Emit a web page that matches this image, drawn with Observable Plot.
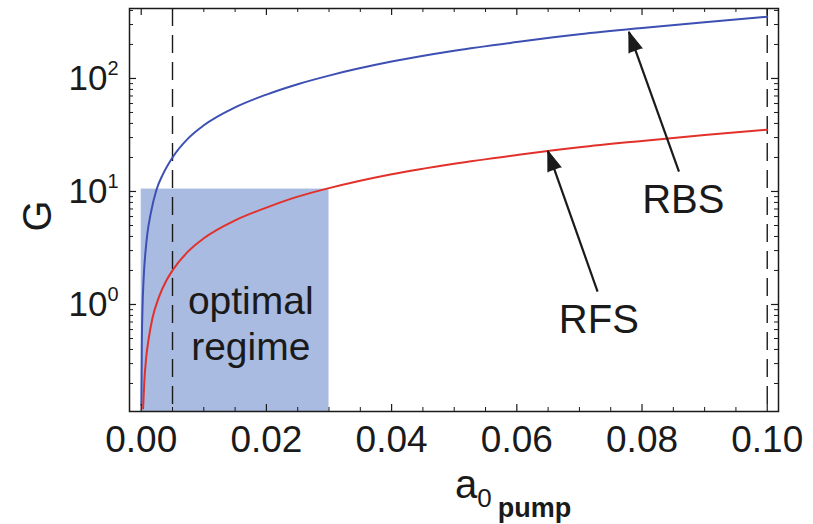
<!DOCTYPE html>
<html><head><meta charset="utf-8">
<script src="https://cdn.jsdelivr.net/npm/d3@7"></script>
<script src="https://cdn.jsdelivr.net/npm/@observablehq/plot@0.6"></script>
<style>body{margin:0;background:#fff} svg{display:block}</style>
</head><body><div id="chart"></div>
<script>
// ---- data ----
const aRBS = [0.00003, 0.0001, 0.0002, 0.0004, 0.0007, 0.001, 0.0015, 0.0024, 0.0035, 0.005, 0.0075, 0.01, 0.015, 0.02, 0.025, 0.03, 0.04, 0.05, 0.06, 0.07, 0.08, 0.09, 0.1];
const gRBS = [0.13, 0.45, 0.9, 1.75, 3.0, 4.3, 6.3, 10.2, 14.3, 20, 29.5, 38.5, 55.5, 72, 89, 106, 141, 176, 210, 246, 280, 315, 352];
const aRFS = [0.0003, 0.0005, 0.0008, 0.0012, 0.0018, 0.0028, 0.004, 0.005, 0.0075, 0.01, 0.015, 0.02, 0.025, 0.03, 0.04, 0.05, 0.06, 0.07, 0.08, 0.09, 0.1];
const gRFS = [0.12, 0.21, 0.34, 0.5, 0.76, 1.15, 1.62, 2.0, 2.95, 3.85, 5.55, 7.2, 9.0, 10.7, 14.2, 17.6, 21.0, 24.6, 28.0, 31.6, 35.2];
const xTickLabels = [0, 0.02, 0.04, 0.06, 0.08, 0.1];
const xMinorTicks = [0.005, 0.01, 0.015, 0.025, 0.03, 0.035, 0.045, 0.05, 0.055, 0.065, 0.07, 0.075, 0.085, 0.09, 0.095];
const yTickLabels = [1, 10, 100];
const yMinorTicks = [0.2, 0.3, 0.4, 0.5, 0.6, 0.7, 0.8, 0.9, 2, 3, 4, 5, 6, 7, 8, 9, 20, 30, 40, 50, 60, 70, 80, 90, 200, 300, 400];
const dashedX = [0.005, 0.1];
const regimeX = [0, 0.03];
const regimeTop = 10.5;
const regimeText = "optimal\nregime";
const regimeTextPos = [0.0175, 0.32];
const annLabels = ["RBS", "RFS"];
const annTextX = [0.0866, 0.0731];
const annTextY = [6.4, 0.557];
const annTipX = [0.0779, 0.06495];
const annTipY = [259, 22.9];
const annTailX = [0.0859, 0.0729];
const annTailY = [15.0, 1.30];

// ---- layout ----
const W = 813, H = 524;
const mL = 129, mR = 35, mT = 8, mB = 113;
const innerW = W - mL - mR, innerH = H - mT - mB;
const xDomain = [-0.00187, 0.1018];
const yDomain = [0.113, 416];
const font = "'Liberation Sans', Arial, Helvetica, sans-serif";

const rbs = aRBS.map((a, i) => ({a, g: gRBS[i]}));
const rfs = aRFS.map((a, i) => ({a, g: gRFS[i]}));
const ann = annLabels.map((label, i) => ({label, tx: annTextX[i], ty: annTextY[i], x1: annTailX[i], y1: annTailY[i], x2: annTipX[i], y2: annTipY[i]}));

const ink = "#1a1a1a";
const plot = Plot.plot({
  width: W, height: H,
  marginLeft: mL, marginRight: mR, marginTop: mT, marginBottom: mB,
  style: {fontFamily: font, background: "#fff", color: ink},
  x: {domain: xDomain, label: null},
  y: {type: "log", domain: yDomain, label: null},
  marks: [
    Plot.rect([{x1: regimeX[0], x2: regimeX[1]}], {x1: "x1", x2: "x2", y1: () => yDomain[0], y2: () => regimeTop, fill: "#a9bbe0"}),
    Plot.ruleX(dashedX, {stroke: ink, strokeWidth: 1.4, strokeDasharray: "18,9"}),
    Plot.line(rbs, {x: "a", y: "g", stroke: "#3d4fb3", strokeWidth: 2, curve: "monotone-x"}),
    Plot.line(rfs, {x: "a", y: "g", stroke: "#e2312a", strokeWidth: 2, curve: "monotone-x"}),
    // frame ticks (inward)
    Plot.tickX(xTickLabels, {x: d => d, insetTop: innerH - 7, stroke: ink, strokeWidth: 1.2}),
    Plot.tickX(xTickLabels, {x: d => d, insetBottom: innerH - 7, stroke: ink, strokeWidth: 1.2}),
    Plot.tickX(xMinorTicks, {x: d => d, insetTop: innerH - 4, stroke: ink, strokeWidth: 1}),
    Plot.tickX(xMinorTicks, {x: d => d, insetBottom: innerH - 4, stroke: ink, strokeWidth: 1}),
    Plot.tickY(yTickLabels, {y: d => d, insetRight: innerW - 7, stroke: ink, strokeWidth: 1.2}),
    Plot.tickY(yTickLabels, {y: d => d, insetLeft: innerW - 7, stroke: ink, strokeWidth: 1.2}),
    Plot.tickY(yMinorTicks, {y: d => d, insetRight: innerW - 4, stroke: ink, strokeWidth: 1}),
    Plot.tickY(yMinorTicks, {y: d => d, insetLeft: innerW - 4, stroke: ink, strokeWidth: 1}),
    Plot.frame({stroke: ink, strokeWidth: 1.5}),
    Plot.axisX(xTickLabels, {tickSize: 0, tickPadding: 14, fontSize: 37, tickFormat: d3.format(".2f"), label: null}),
    Plot.axisY(yTickLabels, {tickSize: 0, tickPadding: 11, fontSize: 35, tickFormat: d => String(Math.round(Math.log10(d))), label: null}),
    // annotations
    Plot.text([regimeText], {x: () => regimeTextPos[0], y: () => regimeTextPos[1], text: d => d, fontSize: 39, lineHeight: 1.2, lineAnchor: "bottom", fill: ink}),
    Plot.link(ann, {x1: "x1", y1: "y1", x2: "x2", y2: "y2", stroke: ink, strokeWidth: 2.2}),
    Plot.vector(ann, {x: "x2", y: "y2", shape: "spike", anchor: "end", length: 20, r: 7, rotate: -19.6, fill: ink, fillOpacity: 1, stroke: ink, strokeWidth: 1}),
    Plot.text(ann, {x: "tx", y: "ty", text: "label", fontSize: 40, lineAnchor: "bottom", fill: ink})
  ]
});

const svg = d3.select(plot);
// superscript y tick labels: 10^n
svg.selectAll('g[aria-label="y-axis tick label"] text').each(function() {
  const t = d3.select(this);
  const e = t.text();
  t.text(null);
  t.append("tspan").text("10");
  t.append("tspan").attr("font-size", "0.57em").attr("dy", "-0.72em").text(e);
});
// x axis label a0 pump
const xl = svg.append("text").attr("x", 455).attr("y", 498).attr("fill", ink)
  .attr("text-anchor", "start").attr("font-family", font);
xl.append("tspan").attr("font-size", 40).text("a");
xl.append("tspan").attr("font-size", 26).attr("dy", 8.5).text("0");
xl.append("tspan").attr("font-size", 27).attr("font-weight", "bold").attr("dx", 6).attr("dy", 10).text("pump");
// y axis label G
svg.append("text").attr("transform", "translate(51,216) rotate(-90)").attr("text-anchor", "middle")
  .attr("font-size", 40).attr("fill", ink).attr("font-family", font).text("G");

document.getElementById("chart").appendChild(plot);
</script>
</body></html>
